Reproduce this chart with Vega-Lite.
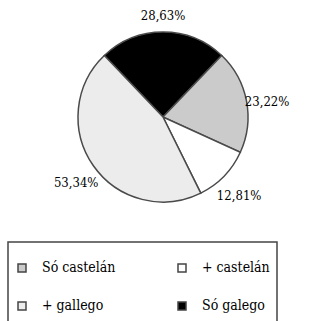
{
  "$schema": "https://vega.github.io/schema/vega-lite/v6.json",
  "width": 326,
  "height": 234,
  "padding": 0,
  "autosize": {"type": "pad"},
  "background": "white",
  "config": {"view": {"stroke": null}, "legend": {"strokeWidth": 1.5}},
  "data": {
    "values": [
      {"grupo": "Só galego", "pct": 28.63, "etiqueta": "28,63%", "orde": 1},
      {"grupo": "Só castelán", "pct": 23.22, "etiqueta": "23,22%", "orde": 2},
      {"grupo": "+ castelán", "pct": 12.81, "etiqueta": "12,81%", "orde": 3},
      {"grupo": "+ gallego", "pct": 53.34, "etiqueta": "53,34%", "orde": 4}
    ]
  },
  "encoding": {
    "theta": {"field": "pct", "type": "quantitative", "stack": true, "scale": {"range": [-0.7618, 5.5214]}},
    "order": {"field": "orde", "type": "quantitative"}
  },
  "layer": [
    {
      "mark": {"type": "arc", "outerRadius": 85, "stroke": "#4a4a4a", "strokeWidth": 1.5},
      "encoding": {
        "color": {
          "field": "grupo",
          "type": "nominal",
          "scale": {
            "domain": ["Só castelán", "+ gallego", "+ castelán", "Só galego"],
            "range": ["#cbcbcb", "#ececec", "#ffffff", "#000000"]
          },
          "legend": {
            "title": null,
            "orient": "none",
            "legendX": 8,
            "legendY": 242,
            "columns": 2,
            "gridAlign": "all",
            "symbolType": "square",
            "symbolSize": 64,
            "symbolStrokeColor": "#444444",
            "symbolStrokeWidth": 1.5,
            "labelFont": "DejaVu Serif Condensed, DejaVu Serif",
            "labelFontSize": 14,
            "labelColor": "#000000",
            "labelOffset": 13,
            "labelLimit": 200,
            "columnPadding": 59,
            "rowPadding": 0,
            "clipHeight": 38,
            "padding": 7,
            "strokeColor": "#444444"
          }
        }
      }
    },
    {
      "mark": {"type": "text", "radius": 106, "dy": 5, "font": "DejaVu Serif Condensed, DejaVu Serif", "fontSize": 13, "color": "#000000"},
      "encoding": {"text": {"field": "etiqueta", "type": "nominal"}}
    }
  ]
}
